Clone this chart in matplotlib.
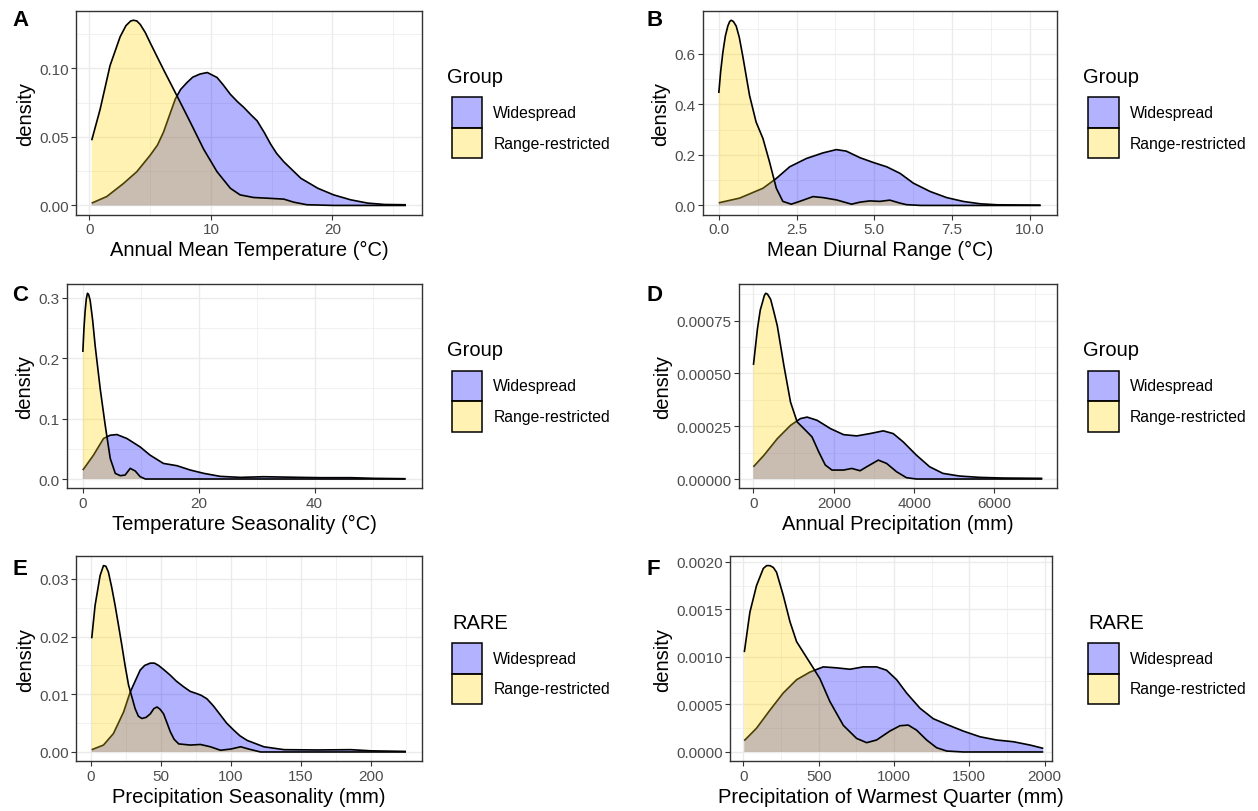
import matplotlib
matplotlib.use('Agg')
import matplotlib.pyplot as plt
from matplotlib.patches import Rectangle
from matplotlib.ticker import AutoMinorLocator

plt.rcParams['font.family'] = ['Liberation Sans', 'DejaVu Sans']

W, H = 1258, 812

# ---------------- data ----------------
group_labels = ['Widespread', 'Range-restricted']

# Panel A: Annual Mean Temperature
A_wide_x = [0.19, 1.43, 2.8, 3.9, 5.0, 5.6, 6.1, 6.6, 7.07, 7.5, 8.03, 8.5, 9.1, 9.7, 10.5, 11.0, 11.6, 12.2, 12.7, 13.3, 13.8, 14.4, 14.9, 15.4, 16.0, 17.4, 18.8, 20.1, 21.5, 22.9, 24.3, 26.05]
A_wide_y = [0.0017, 0.0065, 0.016, 0.0246, 0.0366, 0.044, 0.0535, 0.066, 0.0776, 0.0845, 0.0896, 0.0935, 0.0958, 0.0969, 0.0933, 0.088, 0.081, 0.0755, 0.0715, 0.066, 0.0617, 0.053, 0.0449, 0.038, 0.0318, 0.0198, 0.0125, 0.0077, 0.0041, 0.0017, 0.0007, 0.0005]
A_rr_x = [0.19, 0.88, 1.7, 2.53, 3.0, 3.4, 3.63, 3.9, 4.18, 4.6, 5.0, 6.1, 7.2, 8.3, 9.4, 10.5, 11.6, 12.4, 13.5, 14.6, 16.0, 16.8, 17.9, 20.1, 26.05]
A_rr_y = [0.0475, 0.070, 0.102, 0.123, 0.131, 0.1345, 0.135, 0.1345, 0.132, 0.126, 0.1186, 0.099, 0.080, 0.0607, 0.041, 0.0246, 0.0125, 0.0077, 0.0058, 0.0053, 0.0046, 0.0024, 0.0005, 0.0, 0.0]

# Panel B: Mean Diurnal Range
B_wide_x = [0.0, 0.67, 1.42, 1.85, 2.28, 2.82, 3.35, 3.78, 4.1, 4.54, 4.97, 5.4, 5.83, 6.26, 6.8, 7.33, 7.87, 8.41, 8.95, 10.35]
B_wide_y = [0.0105, 0.029, 0.068, 0.107, 0.153, 0.186, 0.208, 0.221, 0.215, 0.189, 0.17, 0.153, 0.127, 0.088, 0.055, 0.031, 0.0157, 0.0065, 0.0026, 0.001]
B_rr_x = [0.0, 0.06, 0.13, 0.21, 0.29, 0.35, 0.40, 0.47, 0.56, 0.66, 0.77, 0.99, 1.2, 1.42, 1.63, 1.85, 2.06, 2.33, 2.6, 3.03, 3.35, 3.78, 4.27, 4.54, 4.86, 5.18, 5.5, 5.83, 6.04, 6.5, 10.35]
B_rr_y = [0.445, 0.53, 0.605, 0.67, 0.71, 0.728, 0.733, 0.728, 0.71, 0.665, 0.592, 0.435, 0.33, 0.265, 0.173, 0.068, 0.016, 0.005, 0.016, 0.035, 0.031, 0.022, 0.005, 0.013, 0.018, 0.016, 0.021, 0.009, 0.003, 0.0, 0.0]

# Panel C: Temperature Seasonality
C_wide_x = [0.0, 1.84, 3.57, 4.73, 5.88, 7.6, 9.9, 11.6, 13.9, 16.25, 18.56, 20.9, 23.7, 27.2, 31.2, 34.1, 37.6, 41.0, 46.2, 50.3, 55.7]
C_wide_y = [0.0148, 0.0395, 0.067, 0.0724, 0.0735, 0.067, 0.053, 0.0395, 0.0258, 0.022, 0.0148, 0.0093, 0.0044, 0.0027, 0.0038, 0.0033, 0.0027, 0.0022, 0.0022, 0.0011, 0.0005]
C_rr_x = [0.0, 0.2, 0.4, 0.6, 0.8, 1.0, 1.27, 1.7, 2.13, 3.0, 3.86, 4.73, 5.6, 6.46, 7.3, 8.18, 9.05, 9.9, 10.8, 55.7]
C_rr_y = [0.21, 0.25, 0.278, 0.298, 0.307, 0.305, 0.295, 0.262, 0.22, 0.149, 0.089, 0.034, 0.0093, 0.0055, 0.0066, 0.0176, 0.0132, 0.0038, 0.0, 0.0]

# Panel D: Annual Precipitation
D_wide_x = [0, 264, 594, 923, 1170, 1336, 1583, 1913, 2242, 2572, 2902, 3232, 3479, 3726, 4056, 4386, 4716, 5128, 5623, 6200, 7189]
D_wide_y = [0.000058, 0.000113, 0.000191, 0.000254, 0.000286, 0.000293, 0.000278, 0.000239, 0.00021, 0.000204, 0.000215, 0.000228, 0.000215, 0.000176, 0.000113, 0.000058, 0.0000267, 0.0000141, 0.0000078, 0.0000047, 0.0000031]
D_rr_x = [0, 99, 170, 223, 270, 305, 350, 429, 510, 594, 758, 923, 1088, 1253, 1459, 1624, 1789, 1954, 2242, 2449, 2655, 2820, 3108, 3314, 3562, 3809, 4056, 7189]
D_rr_y = [0.00054, 0.00071, 0.0008, 0.000835, 0.000868, 0.000879, 0.000875, 0.00085, 0.00079, 0.000725, 0.000537, 0.000364, 0.00027, 0.000239, 0.000199, 0.000129, 0.000066, 0.0000424, 0.0000424, 0.00005, 0.0000392, 0.000058, 0.0000895, 0.0000738, 0.0000345, 0.0000063, 0.0, 0.0]

# Panel E: Precipitation Seasonality
E_wide_x = [0.7, 9.1, 16.2, 23.4, 28.2, 35.3, 38.5, 42.5, 45.5, 48.4, 52.0, 56.8, 61.0, 66.3, 71.0, 75.9, 79.0, 83.0, 87.5, 92.6, 97.0, 102.0, 106.5, 111.7, 123.6, 138.0, 161.8, 185.7, 200.0, 225.0]
E_wide_y = [0.0004, 0.0012, 0.0032, 0.0069, 0.0104, 0.0142, 0.0150, 0.0154, 0.0154, 0.015, 0.0143, 0.0133, 0.0123, 0.0113, 0.0105, 0.0101, 0.0098, 0.0092, 0.0080, 0.0064, 0.0050, 0.0038, 0.0028, 0.002, 0.0009, 0.0004, 0.00035, 0.0004, 0.0002, 0.0001]
E_rr_x = [0.7, 3.1, 6.7, 9.1, 10.8, 12.6, 15.0, 17.4, 20.0, 22.2, 24.5, 27.0, 31.7, 34.0, 36.5, 39.5, 42.5, 45.0, 47.3, 49.5, 52.0, 54.5, 56.8, 59.5, 62.8, 71.0, 78.3, 85.4, 92.6, 99.8, 107.0, 112.9, 121.2, 225.0]
E_rr_y = [0.0197, 0.0254, 0.0306, 0.0323, 0.0322, 0.0312, 0.0285, 0.0254, 0.0217, 0.0185, 0.015, 0.0116, 0.0075, 0.0062, 0.0058, 0.006, 0.0066, 0.0075, 0.0078, 0.0074, 0.0066, 0.005, 0.0035, 0.0022, 0.0014, 0.0012, 0.0013, 0.0009, 0.0003, 0.0005, 0.0009, 0.0005, 0.0, 0.0]

# Panel F: Precipitation of Warmest Quarter
F_wide_x = [7, 88, 177, 265, 354, 442, 531, 619, 708, 796, 885, 951, 1018, 1084, 1173, 1261, 1350, 1460, 1571, 1681, 1792, 1903, 1991]
F_wide_y = [0.00012, 0.00025, 0.00044, 0.00062, 0.00076, 0.00084, 0.000895, 0.000885, 0.00087, 0.000895, 0.000895, 0.00086, 0.00076, 0.00062, 0.00046, 0.00035, 0.00029, 0.00022, 0.00016, 0.000126, 0.000108, 0.000073, 0.000038]
F_rr_x = [7, 44, 88, 133, 155, 177, 200, 221, 265, 310, 354, 398, 454, 509, 575, 664, 752, 819, 885, 973, 1040, 1095, 1150, 1217, 1283, 1350, 1460, 1991]
F_rr_y = [0.00105, 0.00147, 0.00175, 0.00193, 0.00196, 0.00196, 0.00194, 0.00189, 0.00165, 0.00137, 0.00116, 0.00105, 0.00091, 0.00077, 0.00053, 0.00028, 0.000143, 0.000098, 0.000126, 0.00022, 0.000276, 0.000283, 0.00023, 0.000126, 0.000045, 0.00001, 0.0, 0.0]

# tick values / labels
A_xticks = [0, 10, 20]; A_yticks = [0.0, 0.05, 0.10]; A_ylabels = ['0.00', '0.05', '0.10']
B_xticks = [0, 2.5, 5, 7.5, 10]; B_xlabels = ['0.0', '2.5', '5.0', '7.5', '10.0']
B_yticks = [0.0, 0.2, 0.4, 0.6]; B_ylabels = ['0.0', '0.2', '0.4', '0.6']
C_xticks = [0, 20, 40]; C_yticks = [0.0, 0.1, 0.2, 0.3]; C_ylabels = ['0.0', '0.1', '0.2', '0.3']
D_xticks = [0, 2000, 4000, 6000]
D_yticks = [0.0, 0.00025, 0.0005, 0.00075]; D_ylabels = ['0.00000', '0.00025', '0.00050', '0.00075']
E_xticks = [0, 50, 100, 150, 200]; E_yticks = [0.0, 0.01, 0.02, 0.03]; E_ylabels = ['0.00', '0.01', '0.02', '0.03']
F_xticks = [0, 500, 1000, 1500, 2000]
F_yticks = [0.0, 0.0005, 0.0010, 0.0015, 0.0020]; F_ylabels = ['0.0000', '0.0005', '0.0010', '0.0015', '0.0020']

# ---------------- styling ----------------
BLUE = (0.0, 0.0, 1.0, 0.3)
GOLD = (1.0, 0.843, 0.0, 0.3)
GRID = '#ebebeb'
DARK = '#333333'
TICKTXT = '#4d4d4d'

panels = [
    dict(letter='A', box=(76, 12, 421.7, 215.7), xlabel='Annual Mean Temperature (°C)',
         wx=A_wide_x, wy=A_wide_y, rx=A_rr_x, ry=A_rr_y,
         xt=A_xticks, xtl=[str(v) for v in A_xticks], yt=A_yticks, ytl=A_ylabels,
         title='Group', title_x=446.7, key_x=451.7, xlim=None),
    dict(letter='B', box=(702.7, 12, 1056.7, 215.7), xlabel='Mean Diurnal Range (°C)',
         wx=B_wide_x, wy=B_wide_y, rx=B_rr_x, ry=B_rr_y,
         xt=B_xticks, xtl=B_xlabels, yt=B_yticks, ytl=B_ylabels,
         title='Group', title_x=1083, key_x=1088, xlim=None),
    dict(letter='C', box=(66.7, 285, 421.7, 489.3), xlabel='Temperature Seasonality (°C)',
         wx=C_wide_x, wy=C_wide_y, rx=C_rr_x, ry=C_rr_y,
         xt=C_xticks, xtl=[str(v) for v in C_xticks], yt=C_yticks, ytl=C_ylabels,
         title='Group', title_x=446.7, key_x=451.7, xlim=None),
    dict(letter='D', box=(739, 285, 1056.7, 489.3), xlabel='Annual Precipitation (mm)',
         wx=D_wide_x, wy=D_wide_y, rx=D_rr_x, ry=D_rr_y,
         xt=D_xticks, xtl=[str(v) for v in D_xticks], yt=D_yticks, ytl=D_ylabels,
         title='Group', title_x=1083, key_x=1088, xlim=None),
    dict(letter='E', box=(76, 557.3, 421.7, 762.3), xlabel='Precipitation Seasonality (mm)',
         wx=E_wide_x, wy=E_wide_y, rx=E_rr_x, ry=E_rr_y,
         xt=E_xticks, xtl=[str(v) for v in E_xticks], yt=E_yticks, ytl=E_ylabels,
         title='RARE', title_x=452.7, key_x=451.7, xlim=None),
    dict(letter='F', box=(730, 557.3, 1051.7, 762.3), xlabel='Precipitation of Warmest Quarter (mm)',
         wx=F_wide_x, wy=F_wide_y, rx=F_rr_x, ry=F_rr_y,
         xt=F_xticks, xtl=[str(v) for v in F_xticks], yt=F_yticks, ytl=F_ylabels,
         title='RARE', title_x=1088, key_x=1088, xlim=(-88, 2047)),
]

fig = plt.figure(figsize=(W / 100, H / 100), dpi=100)


def fx(px):
    return px / W


def fy(py):
    return 1 - py / H


letter_pos = {'A': (12, 10), 'B': (647, 10), 'C': (12, 285), 'D': (647, 285), 'E': (12, 559), 'F': (647, 559)}

for p in panels:
    l, t, r, b = p['box']
    ax = fig.add_axes([fx(l), fy(b), (r - l) / W, (b - t) / H])

    # densities: widespread first, range-restricted on top
    ax.fill_between(p['wx'], 0, p['wy'], facecolor=BLUE, linewidth=0, zorder=2)
    ax.plot(p['wx'], p['wy'], color='black', lw=1.2, zorder=3, solid_capstyle='butt', solid_joinstyle='round')
    ax.fill_between(p['rx'], 0, p['ry'], facecolor=GOLD, linewidth=0, zorder=4)
    ax.plot(p['rx'], p['ry'], color='black', lw=1.2, zorder=5, solid_capstyle='butt', solid_joinstyle='round')

    xs = p['wx'] + p['rx']
    ys = p['wy'] + p['ry']
    xmin, xmax = min(xs), max(xs)
    ymax = max(ys)
    if p['xlim'] is None:
        span = xmax - xmin
        ax.set_xlim(xmin - 0.05 * span, xmax + 0.05 * span)
    else:
        ax.set_xlim(*p['xlim'])
    ax.set_ylim(-0.05 * ymax, 1.05 * ymax)

    ax.set_xticks(p['xt'], p['xtl'])
    ax.set_yticks(p['yt'], p['ytl'])
    ax.xaxis.set_minor_locator(AutoMinorLocator(2))
    ax.yaxis.set_minor_locator(AutoMinorLocator(2))
    ax.grid(True, which='major', color=GRID, lw=1.0, zorder=0)
    ax.grid(True, which='minor', color=GRID, lw=0.5, zorder=0)
    ax.set_axisbelow(True)
    ax.tick_params(which='major', direction='out', length=3.3, width=0.8, color=DARK,
                   labelsize=11, labelcolor=TICKTXT, pad=2)
    ax.tick_params(which='minor', length=0)
    for s in ax.spines.values():
        s.set_color(DARK)
        s.set_linewidth(1.0)
        s.set_zorder(6)

    ax.set_xlabel(p['xlabel'], fontsize=14.5, labelpad=3)
    ax.set_ylabel('density', fontsize=14.5, labelpad=3)

    # panel letter
    lx, ly = letter_pos[p['letter']]
    fig.text(fx(lx), fy(ly), p['letter'], fontsize=16, fontweight='bold', ha='left', va='top')

    # legend (ggplot-style keys)
    c = (t + b) / 2
    key_top = c - 15.6
    ks = 30.5
    fig.text(fx(p['title_x']), fy(c - 30.8), p['title'], fontsize=14.5, ha='left', va='baseline')
    for i, (lab, col) in enumerate(zip(group_labels, [BLUE, GOLD])):
        y0 = key_top + i * ks
        fig.add_artist(Rectangle((fx(p['key_x']), fy(y0 + ks)), ks / W, ks / H,
                                 transform=fig.transFigure, facecolor=col,
                                 edgecolor='black', lw=1.1))
        fig.text(fx(p['key_x'] + 41.6), fy(y0 + ks / 2), lab, fontsize=11.3,
                 ha='left', va='center')

fig.savefig('out.png', dpi=100)
